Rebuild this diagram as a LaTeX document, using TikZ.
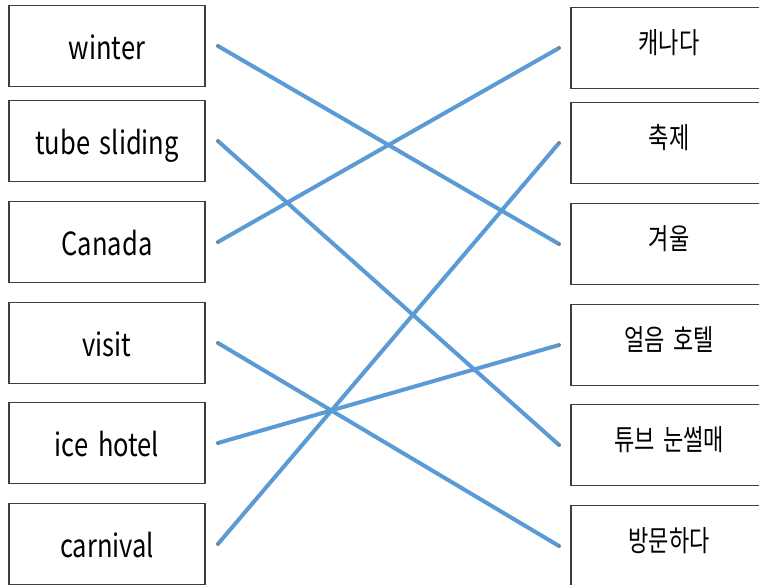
\documentclass[tikz,border=0pt]{standalone}
\usepackage{fontspec}
\usepackage{graphicx}
\setmainfont{Noto Sans CJK KR}
\usetikzlibrary{positioning}
\definecolor{linkc}{HTML}{5B9BD5}
\definecolor{boxc}{HTML}{3F3F3F}
\definecolor{dotc}{HTML}{808080}
\newcommand{\sq}[1]{\scalebox{0.76}[1]{\spaceskip=0.38em\relax#1}}
\newcommand{\sqe}[1]{\scalebox{0.88}[1.1]{\spaceskip=0.38em\relax#1}}

\begin{document}
\begin{tikzpicture}[x=1pt,y=-1pt,
    word/.style={draw=boxc,line width=1.9pt,minimum width=196pt,minimum height=81pt,inner sep=0pt,
      text height=30pt,text depth=4pt,font=\fontsize{29}{32}\selectfont},
    kword/.style={word,text height=24pt,text depth=14pt},
    pairline/.style={draw=linkc,line width=4pt,line cap=round}]
  \useasboundingbox (0,0) rectangle (759,584);
  % English words
  \foreach \n/\y/\t in {1/46/winter,2/141/tube sliding,3/242/Canada,4/343/visit,5/443/ice hotel,6/544/carnival}{
    \node[word] (l\n) at (107,\y) {\sqe{\t}};
    \coordinate (a\n) at ([xshift=12pt]l\n.east);
  }
  % Korean words
  \foreach \n/\y/\t in {1/48/캐나다,2/143/축제,3/244/겨울,4/345/얼음 호텔,5/445/튜브 눈썰매,6/546/방문하다}{
    \node[kword] (r\n) at (669,\y) {\sq{\t}};
    \coordinate (b\n) at ([xshift=-11pt]r\n.west);
  }
  % matches
  \foreach \i/\j in {1/3,2/5,3/1,4/6,5/4,6/2}{
    \draw[pairline] (a\i) -- (b\j);
    \fill[dotc] (a\i) circle (1.8pt) (b\j) circle (1.8pt);
  }
\end{tikzpicture}
\end{document}
